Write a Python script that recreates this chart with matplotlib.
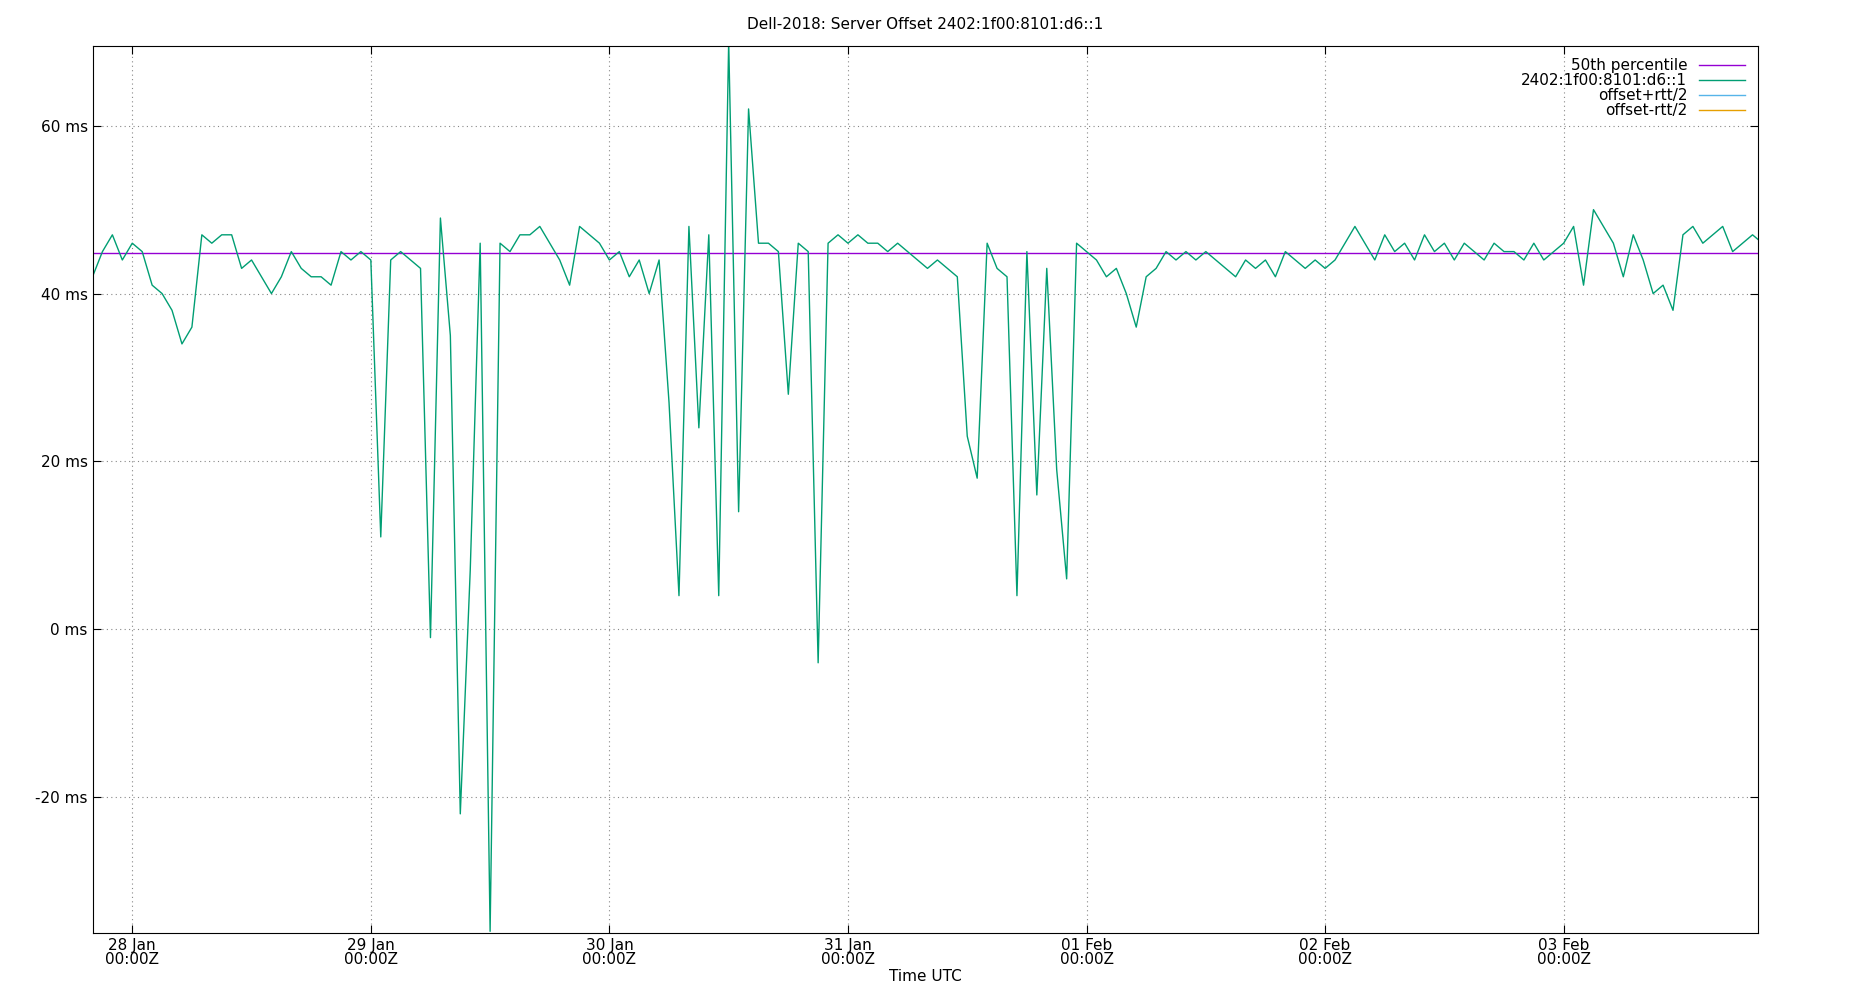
import matplotlib
matplotlib.use("Agg")
import matplotlib.pyplot as plt
import matplotlib.dates as mdates
from datetime import datetime, timedelta

start = datetime(2024, 1, 27, 20, 0)
offset_ms = [42, 45, 47, 44, 46,
 45, 41, 40, 38, 34, 36, 47, 46, 47, 47, 43, 44, 42, 40, 42, 45, 43, 42, 42, 41, 45, 44, 45, 44,
 11, 44, 45, 44, 43, -1, 49, 35, -22, 7, 46, -36, 46, 45, 47, 47, 48, 46, 44, 41, 48, 47, 46, 44,
 45, 42, 44, 40, 44, 27, 4, 48, 24, 47, 4, 70, 14, 62, 46, 46, 45, 28, 46, 45, -4, 46, 47, 46,
 47, 46, 46, 45, 46, 45, 44, 43, 44, 43, 42, 23, 18, 46, 43, 42, 4, 45, 16, 43, 19, 6, 46, 45,
 44, 42, 43, 40, 36, 42, 43, 45, 44, 45, 44, 45, 44, 43, 42, 44, 43, 44, 42, 45, 44, 43, 44, 43,
 44, 46, 48, 46, 44, 47, 45, 46, 44, 47, 45, 46, 44, 46, 45, 44, 46, 45, 45, 44, 46, 44, 45, 46,
 48, 41, 50, 48, 46, 42, 47, 44, 40, 41, 38, 47, 48, 46, 47, 48, 45, 46, 47, 46]
times = [start + timedelta(hours=i) for i in range(len(offset_ms))]
median_ms = 44.8

fig = plt.figure(figsize=(18.5, 10), dpi=100)
ax = fig.add_axes([0.05, 0.067, 0.90, 0.887])
ax.axhline(median_ms, color="#9400d3", lw=1, label="50th percentile")
ax.plot(times, offset_ms, color="#009e73", lw=1, label="2402:1f00:8101:d6::1")
ax.plot([], [], color="#56b4e9", lw=1, label="offset+rtt/2")
ax.plot([], [], color="#e69f00", lw=1, label="offset-rtt/2")
ax.set_xlim(start, datetime(2024, 2, 3, 19, 30))
ax.set_ylim(-36.2, 69.5)
ax.set_yticks([-20, 0, 20, 40, 60])
ax.set_yticklabels([f"{v} ms" for v in [-20, 0, 20, 40, 60]])
ax.xaxis.set_major_locator(mdates.DayLocator())
ax.xaxis.set_major_formatter(mdates.DateFormatter("%d %b\n%H:%MZ"))
ax.grid(True, color="#888888", ls=(0, (1, 3)), lw=0.8)
ax.tick_params(direction="in", labelsize=11, top=True, right=True, length=6)
for lab in ax.get_xticklabels():
    lab.set_linespacing(0.9)
ax.set_xlabel("Time UTC", fontsize=11, labelpad=2)
ax.set_title("Dell-2018: Server Offset 2402:1f00:8101:d6::1", fontsize=11, pad=12)
ax.legend(loc="upper right", frameon=False, markerfirst=False, fontsize=11,
          handlelength=3, labelspacing=0.0, borderaxespad=0.4)
fig.savefig("out.png")
